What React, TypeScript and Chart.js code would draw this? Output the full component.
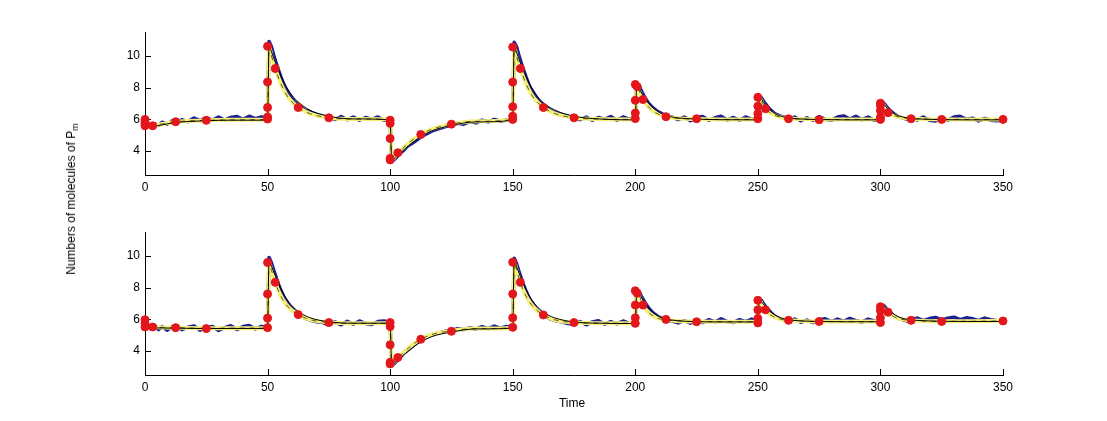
import React, { useEffect, useRef } from "react";
import { Chart, registerables } from "chart.js";
Chart.register(...registerables);

// ---------- axis ticks ----------
const xTicks = [0, 50, 100, 150, 200, 250, 300, 350];
const yTicks = [4, 6, 8, 10];
const xMin = 0;
const xMax = 350;
const yMin = 2.5;
const yMax = 11.5;

// ---------- time grids (start of each stimulus segment + sample offsets) ----------
const segStarts = [0, 50, 100, 150, 200, 250, 300];
const smoothOffsets = [0, 0.6, 1.5, 3.125, 5, 7.5, 10, 12.5, 17, 25, 35];
const blueOffsets = [0, 0.6, 1.5, 2.5, 4, 5.5, 7, 9, 11, 13, 15, 17.5, 20, 22.5, 25, 27.5, 30, 32.5, 35, 37.5, 40, 42.5, 45, 47.5];
const endTime = 350;

// ---------- top panel ----------
const yellowTop = [
  [6.0, 5.65, 5.58, 5.6, 5.65, 5.72, 5.79, 5.85, 5.9, 5.94, 5.97],
  [6.0, 10.6, 10.05, 9.2, 8.4, 7.6, 7.1, 6.75, 6.38, 6.1, 6.02],
  [6.0, 3.45, 3.55, 3.9, 4.15, 4.5, 4.8, 5.05, 5.38, 5.7, 5.88],
  [6.0, 10.55, 10.0, 9.2, 8.4, 7.6, 7.1, 6.75, 6.38, 6.1, 6.02],
  [6.0, 8.15, 7.85, 7.25, 6.85, 6.5, 6.3, 6.18, 6.07, 6.02, 6.0],
  [6.0, 7.38, 7.15, 6.68, 6.42, 6.22, 6.12, 6.05, 6.02, 6.0, 5.99],
  [6.0, 7.0, 6.85, 6.45, 6.28, 6.15, 6.08, 6.04, 6.02, 6.0, 6.0],
];
const yellowTopEnd = 6.0;

const blackTop = [
  [5.95, 5.6, 5.55, 5.55, 5.6, 5.67, 5.74, 5.8, 5.86, 5.92, 5.95],
  [5.95, 10.7, 10.3, 9.6, 8.9, 8.1, 7.5, 7.1, 6.6, 6.2, 6.03],
  [5.97, 3.5, 3.5, 3.75, 4.0, 4.35, 4.65, 4.92, 5.28, 5.62, 5.84],
  [5.95, 10.65, 10.25, 9.55, 8.85, 8.05, 7.45, 7.05, 6.6, 6.2, 6.03],
  [5.97, 8.2, 8.0, 7.5, 7.1, 6.7, 6.42, 6.25, 6.1, 6.02, 5.98],
  [5.97, 7.42, 7.28, 6.88, 6.58, 6.32, 6.18, 6.1, 6.03, 5.99, 5.97],
  [5.97, 7.05, 6.95, 6.62, 6.4, 6.22, 6.12, 6.06, 6.02, 5.98, 5.97],
];
const blackTopEnd = 5.97;

const blueTop = [
  [6.0, 5.75, 5.6, 5.52, 5.72, 5.62, 5.82, 5.7, 5.9, 5.78, 5.98, 5.86, 6.08, 5.92, 6.1, 5.95, 6.15, 5.96, 6.12, 6.18, 6.0, 6.2, 6.05, 6.15],
  [6.1, 10.9, 10.6, 10.05, 9.3, 8.65, 8.05, 7.55, 7.1, 6.85, 6.6, 6.45, 6.3, 6.2, 6.15, 6.0, 6.18, 5.98, 6.15, 5.95, 6.12, 6.0, 6.15, 5.95],
  [5.95, 3.4, 3.45, 3.6, 3.85, 4.05, 4.3, 4.5, 4.72, 4.95, 5.1, 5.3, 5.42, 5.55, 5.62, 5.75, 5.7, 5.86, 5.78, 5.95, 5.85, 6.0, 5.88, 5.98],
  [6.0, 10.85, 10.6, 10.05, 9.3, 8.65, 8.05, 7.55, 7.1, 6.85, 6.6, 6.42, 6.3, 6.2, 6.12, 5.98, 6.15, 5.95, 6.12, 6.0, 6.18, 5.95, 6.15, 6.02],
  [6.08, 8.25, 8.1, 7.8, 7.35, 7.0, 6.75, 6.5, 6.35, 6.22, 6.15, 5.98, 6.15, 5.92, 6.1, 6.18, 5.95, 6.1, 6.2, 5.96, 6.12, 5.95, 6.15, 6.0],
  [6.05, 7.45, 7.35, 7.1, 6.8, 6.55, 6.35, 6.22, 6.12, 5.98, 6.15, 5.92, 6.1, 5.95, 6.18, 6.0, 5.94, 6.15, 6.22, 6.02, 6.2, 5.98, 6.15, 5.95],
  [5.95, 7.1, 7.0, 6.8, 6.55, 6.35, 6.2, 6.1, 6.0, 6.15, 5.96, 6.15, 5.95, 5.9, 6.1, 5.95, 6.15, 6.2, 6.0, 6.08, 5.9, 6.06, 5.95, 5.92],
];
const blueTopEnd = 5.95;

const dotTimesTop = [
  0, 0, 0, 0, 3.125, 12.5, 25,
  50, 50, 50, 50, 50, 53.125, 62.5, 75,
  100, 100, 100, 100, 100, 103.125, 112.5, 125,
  150, 150, 150, 150, 150, 153.125, 162.5, 175,
  200, 200, 200, 200, 200.8, 203.125, 212.5, 225,
  250, 250, 250, 250, 253.125, 262.5, 275,
  300, 300, 300, 300, 300, 303.125, 312.5, 325, 350,
];
const dotValuesTop = [
  6.0, 5.85, 5.7, 5.6, 5.6, 5.85, 5.94,
  6.02, 6.15, 6.75, 8.35, 10.6, 9.2, 6.75, 6.1,
  5.95, 5.75, 4.8, 3.55, 3.45, 3.9, 5.05, 5.7,
  6.0, 6.2, 6.8, 8.35, 10.55, 9.2, 6.75, 6.1,
  6.05, 6.4, 7.2, 8.2, 8.06, 7.25, 6.17, 6.04,
  6.04, 6.36, 6.83, 7.39, 6.67, 6.04, 5.98,
  6.0, 6.14, 6.56, 6.88, 7.02, 6.42, 6.04, 6.0, 6.0,
];

// ---------- bottom panel ----------
const yellowBottom = [
  [5.95, 5.55, 5.5, 5.5, 5.5, 5.49, 5.48, 5.48, 5.46, 5.44, 5.45],
  [5.45, 9.6, 9.15, 8.33, 7.6, 6.95, 6.55, 6.3, 6.0, 5.8, 5.75],
  [5.75, 3.2, 3.3, 3.6, 3.85, 4.2, 4.5, 4.75, 5.05, 5.28, 5.42],
  [5.48, 9.6, 9.15, 8.33, 7.6, 6.95, 6.55, 6.28, 5.98, 5.8, 5.76],
  [5.76, 7.8, 7.55, 6.9, 6.5, 6.2, 6.03, 5.97, 5.9, 5.86, 5.85],
  [5.85, 7.2, 7.0, 6.6, 6.3, 6.1, 5.99, 5.94, 5.9, 5.87, 5.86],
  [5.86, 6.8, 6.7, 6.45, 6.22, 6.05, 5.97, 5.94, 5.9, 5.88, 5.88],
];
const yellowBottomEnd = 5.9;

const blackBottom = [
  [5.9, 5.5, 5.45, 5.45, 5.46, 5.46, 5.45, 5.45, 5.44, 5.42, 5.43],
  [5.43, 9.75, 9.4, 8.75, 8.05, 7.35, 6.85, 6.5, 6.12, 5.85, 5.76],
  [5.76, 3.25, 3.25, 3.45, 3.7, 4.02, 4.32, 4.58, 4.92, 5.2, 5.4],
  [5.45, 9.7, 9.35, 8.7, 8.0, 7.3, 6.8, 6.45, 6.1, 5.84, 5.76],
  [5.74, 7.85, 7.7, 7.2, 6.8, 6.4, 6.15, 6.03, 5.92, 5.86, 5.84],
  [5.84, 7.25, 7.1, 6.8, 6.5, 6.22, 6.06, 5.98, 5.91, 5.87, 5.85],
  [5.85, 6.85, 6.8, 6.6, 6.38, 6.15, 6.03, 5.97, 5.92, 5.88, 5.87],
];
const blackBottomEnd = 5.87;

const blueBottom = [
  [5.95, 5.6, 5.5, 5.4, 5.6, 5.36, 5.55, 5.32, 5.52, 5.6, 5.35, 5.5, 5.58, 5.32, 5.48, 5.56, 5.3, 5.48, 5.6, 5.36, 5.55, 5.62, 5.4, 5.56],
  [5.5, 9.9, 9.6, 9.1, 8.4, 7.8, 7.3, 6.85, 6.5, 6.3, 6.1, 5.95, 5.85, 5.8, 5.66, 5.84, 5.66, 5.88, 5.7, 5.9, 5.74, 5.68, 5.86, 5.9],
  [5.8, 3.15, 3.2, 3.35, 3.6, 3.85, 4.05, 4.3, 4.55, 4.75, 4.9, 5.05, 5.15, 5.25, 5.3, 5.42, 5.36, 5.46, 5.4, 5.55, 5.42, 5.58, 5.45, 5.55],
  [5.5, 9.85, 9.55, 9.05, 8.35, 7.75, 7.25, 6.8, 6.45, 6.25, 6.05, 5.92, 5.85, 5.74, 5.7, 5.86, 5.66, 5.84, 5.92, 5.7, 5.86, 5.72, 5.9, 5.76],
  [5.75, 7.85, 7.75, 7.45, 7.05, 6.7, 6.45, 6.2, 6.05, 5.95, 5.9, 5.78, 5.92, 5.76, 5.96, 5.8, 5.98, 5.84, 6.04, 5.86, 5.8, 5.98, 5.86, 6.02],
  [5.85, 7.3, 7.2, 6.95, 6.65, 6.4, 6.2, 6.05, 5.95, 5.86, 6.02, 5.82, 5.96, 5.8, 5.98, 6.04, 5.86, 6.02, 5.88, 6.06, 5.92, 5.84, 6.02, 5.9],
  [5.88, 6.9, 6.85, 6.65, 6.45, 6.22, 6.08, 5.98, 5.9, 6.02, 6.08, 5.92, 6.05, 6.12, 5.96, 6.08, 6.14, 5.98, 6.1, 6.04, 5.92, 6.08, 5.98, 5.92],
];
const blueBottomEnd = 5.92;

const dotTimesBottom = [
  0, 0, 0, 3.125, 12.5, 25,
  50, 50, 50, 50, 53.125, 62.5, 75,
  100, 100, 100, 100, 100, 103.125, 112.5, 125,
  150, 150, 150, 150, 153.125, 162.5, 175,
  200, 200, 200, 200, 200.8, 203.125, 212.5, 225,
  250, 250, 250, 250, 253.125, 262.5, 275,
  300, 300, 300, 300, 303.125, 312.5, 325, 350,
];
const dotValuesBottom = [
  5.98, 5.75, 5.52, 5.52, 5.48, 5.42,
  5.48, 6.08, 7.6, 9.58, 8.33, 6.3, 5.8,
  5.8, 5.55, 4.4, 3.3, 3.2, 3.6, 4.75, 5.25,
  5.5, 6.1, 7.6, 9.6, 8.33, 6.28, 5.8,
  5.75, 6.1, 6.9, 7.8, 7.65, 6.9, 6.0, 5.85,
  5.78, 6.06, 6.6, 7.2, 6.6, 5.94, 5.87,
  5.8, 6.1, 6.55, 6.8, 6.45, 5.94, 5.87, 5.9,
];

// ---------- helpers ----------
function buildSeries(offsets: number[], segs: number[][], endValue: number) {
  const pts: { x: number; y: number }[] = [];
  segStarts.forEach((s, i) => {
    const vals = segs[i] || [];
    const n = Math.min(vals.length, offsets.length);
    for (let k = 0; k < n; k++) pts.push({ x: s + offsets[k], y: vals[k] });
  });
  pts.push({ x: endTime, y: endValue });
  return pts;
}
function zip(ts: number[], vs: number[]) {
  const n = Math.min(ts.length, vs.length);
  const out: { x: number; y: number }[] = [];
  for (let i = 0; i < n; i++) out.push({ x: ts[i], y: vs[i] });
  return out;
}

const FONT = "'Liberation Sans', Arial, Helvetica, sans-serif";
const BLUE = "#1c1f96";
const YELLOW = "#f6f07a";
const RED = "#e3161b";

const inwardTicks = {
  id: "inwardTicks",
  beforeDatasetsDraw(chart: any) {
    const { ctx, chartArea, scales } = chart;
    const xs = scales.x;
    const ys = scales.y;
    ctx.save();
    ctx.strokeStyle = "#000";
    ctx.lineWidth = 1;
    ctx.beginPath();
    xs.ticks.forEach((t: any) => {
      const px = Math.round(xs.getPixelForValue(t.value)) + 0.5;
      ctx.moveTo(px, chartArea.bottom);
      ctx.lineTo(px, chartArea.bottom - 6);
    });
    ys.ticks.forEach((t: any) => {
      const py = Math.round(ys.getPixelForValue(t.value)) + 0.5;
      ctx.moveTo(chartArea.left, py);
      ctx.lineTo(chartArea.left + 6, py);
    });
    ctx.stroke();
    ctx.restore();
  },
};

type PanelProps = {
  top: number;
  height: number;
  padTop: number;
  padBottom: number;
  yellow: { x: number; y: number }[];
  black: { x: number; y: number }[];
  blue: { x: number; y: number }[];
  dots: { x: number; y: number }[];
};

function Panel(p: PanelProps) {
  const ref = useRef<HTMLCanvasElement | null>(null);
  useEffect(() => {
    if (!ref.current) return;
    const chart = new Chart(ref.current, {
      type: "line",
      data: {
        datasets: [
          {
            data: p.dots,
            showLine: false,
            pointRadius: 4,
            pointHoverRadius: 4,
            pointBackgroundColor: RED,
            pointBorderColor: RED,
            pointBorderWidth: 1,
            clip: false as any,
            order: 0,
          },
          {
            data: p.yellow,
            borderColor: "rgba(0,0,0,0.8)",
            borderWidth: 0.8,
            borderDash: [5, 5],
            pointRadius: 0,
            cubicInterpolationMode: "monotone",
            order: 1,
          },
          {
            data: p.black,
            borderColor: "#000",
            borderWidth: 1,
            pointRadius: 0,
            cubicInterpolationMode: "monotone",
            order: 2,
          },
          {
            data: p.yellow,
            borderColor: YELLOW,
            borderWidth: 4,
            pointRadius: 0,
            cubicInterpolationMode: "monotone",
            order: 3,
          },
          {
            data: p.blue,
            borderColor: BLUE,
            borderWidth: 3.5,
            borderJoinStyle: "round",
            borderCapStyle: "round",
            pointRadius: 0,
            tension: 0,
            order: 4,
          },
        ],
      },
      options: {
        animation: false,
        responsive: false,
        maintainAspectRatio: false,
        devicePixelRatio: 1,
        parsing: false as any,
        layout: { padding: { left: 115, right: 104, top: p.padTop, bottom: p.padBottom } },
        plugins: { legend: { display: false }, tooltip: { enabled: false } },
        events: [],
        scales: {
          x: {
            type: "linear",
            min: xMin,
            max: xMax,
            grid: { display: false, drawTicks: false },
            border: { display: true, color: "#000", width: 1 },
            afterBuildTicks: (axis: any) => {
              axis.ticks = xTicks.map((v) => ({ value: v }));
            },
            afterFit: (axis: any) => {
              axis.height = 25;
            },
            ticks: {
              color: "#000",
              padding: 5,
              maxRotation: 0,
              autoSkip: false,
              font: { family: FONT, size: 12 },
              callback: (v: any) => String(v),
            },
          },
          y: {
            type: "linear",
            min: yMin,
            max: yMax,
            grid: { display: false, drawTicks: false },
            border: { display: true, color: "#000", width: 1 },
            afterBuildTicks: (axis: any) => {
              axis.ticks = yTicks.map((v) => ({ value: v }));
            },
            afterFit: (axis: any) => {
              axis.width = 30;
            },
            ticks: {
              color: "#000",
              padding: 5,
              autoSkip: false,
              font: { family: FONT, size: 12 },
              callback: (v: any) => String(v),
            },
          },
        },
      },
      plugins: [inwardTicks],
    } as any);
    return () => chart.destroy();
  }, []);
  return (
    <canvas
      ref={ref}
      width={1107}
      height={p.height}
      style={{ position: "absolute", left: 0, top: p.top, width: 1107, height: p.height }}
    />
  );
}

export default function App() {
  const topYellow = buildSeries(smoothOffsets, yellowTop, yellowTopEnd);
  const topBlack = buildSeries(smoothOffsets, blackTop, blackTopEnd);
  const topBlue = buildSeries(blueOffsets, blueTop, blueTopEnd);
  const topDots = zip(dotTimesTop, dotValuesTop);
  const botYellow = buildSeries(smoothOffsets, yellowBottom, yellowBottomEnd);
  const botBlack = buildSeries(smoothOffsets, blackBottom, blackBottomEnd);
  const botBlue = buildSeries(blueOffsets, blueBottom, blueBottomEnd);
  const botDots = zip(dotTimesBottom, dotValuesBottom);

  return (
    <div
      style={{
        position: "fixed",
        left: 0,
        top: 0,
        width: 1107,
        height: 421,
        background: "#fff",
        overflow: "hidden",
        fontFamily: FONT,
      }}
    >
      <Panel top={0} height={210} padTop={32} padBottom={10} yellow={topYellow} black={topBlack} blue={topBlue} dots={topDots} />
      <Panel top={210} height={211} padTop={22} padBottom={21} yellow={botYellow} black={botBlack} blue={botBlue} dots={botDots} />
      <div
        style={{
          position: "absolute",
          left: 73,
          top: 199,
          transform: "translate(-50%, -50%) rotate(-90deg)",
          whiteSpace: "nowrap",
          fontSize: 12,
          color: "#000",
          lineHeight: "14px",
        }}
      >
        Numbers of molecules of P<sub style={{ fontSize: 9, verticalAlign: "-3px" }}>m</sub>
      </div>
      <div
        style={{
          position: "absolute",
          left: 572,
          top: 403,
          transform: "translate(-50%, -50%)",
          whiteSpace: "nowrap",
          fontSize: 12,
          color: "#000",
        }}
      >
        Time
      </div>
    </div>
  );
}
